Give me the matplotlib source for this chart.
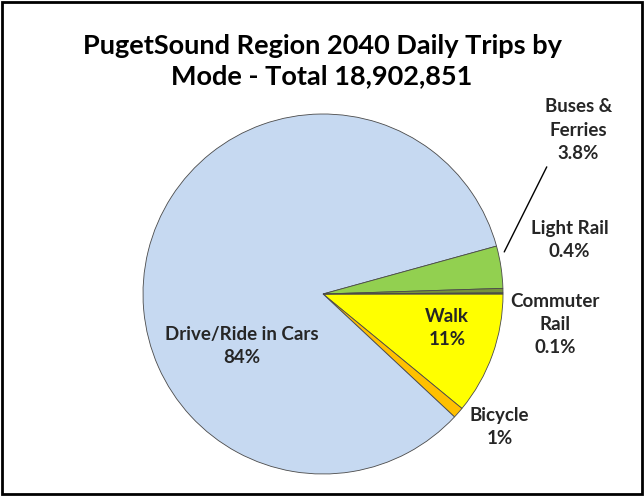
import matplotlib.pyplot as plt
from matplotlib.patches import Rectangle

plt.rcParams['font.family'] = ['Lato', 'DejaVu Sans']

modes = ['Walk', 'Bicycle', 'Drive/Ride in Cars', 'Buses &\nFerries', 'Light Rail', 'Commuter\nRail']
shares = [11, 1, 84, 3.8, 0.4, 0.1]
share_labels = ['11%', '1%', '84%', '3.8%', '0.4%', '0.1%']
colors = ['#FFFF00', '#FFC000', '#C6D9F1', '#92D050', '#77933C', '#4F6228']

# label positions in pie units (radius = 1, centre at 0,0)
label_pos = [(0.69, -0.19), (0.98, -0.74), (-0.45, -0.29), (1.42, 0.91), (1.37, 0.30), (1.29, -0.17)]

W, H = 644, 496
fig = plt.figure(figsize=(W / 100, H / 100), dpi=100)
cx, cy, r = 323, 294, 180
ax = fig.add_axes([(cx - r) / W, (H - cy - r) / H, 2 * r / W, 2 * r / H])

wedges, _ = ax.pie(shares, colors=colors, startangle=0, counterclock=False,
                   wedgeprops=dict(edgecolor='#4a4a4a', linewidth=0.6))
ax.set_xlim(-1, 1)
ax.set_ylim(-1, 1)
ax.set_aspect('equal')

for name, pct, (x, y) in zip(modes, share_labels, label_pos):
    ax.text(x, y, name + '\n' + pct, ha='center', va='center', fontsize=13.5,
            fontweight='bold', color='#262626', linespacing=1.45, clip_on=False)

# leader line for buses & ferries
ax.annotate('', xy=(1.0, 0.22), xytext=(1.25, 0.72),
            arrowprops=dict(arrowstyle='-', color='black', lw=1.0), annotation_clip=False)

fig.text(0.5, 0.877, 'PugetSound Region 2040 Daily Trips by\nMode - Total 18,902,851',
         ha='center', va='center', fontsize=19.5, fontweight='bold', linespacing=1.35)

fig.patches.append(Rectangle((0.003, 0.004), 0.994, 0.992, transform=fig.transFigure,
                             fill=False, edgecolor='black', linewidth=2))

fig.savefig('out.png', dpi=100)
